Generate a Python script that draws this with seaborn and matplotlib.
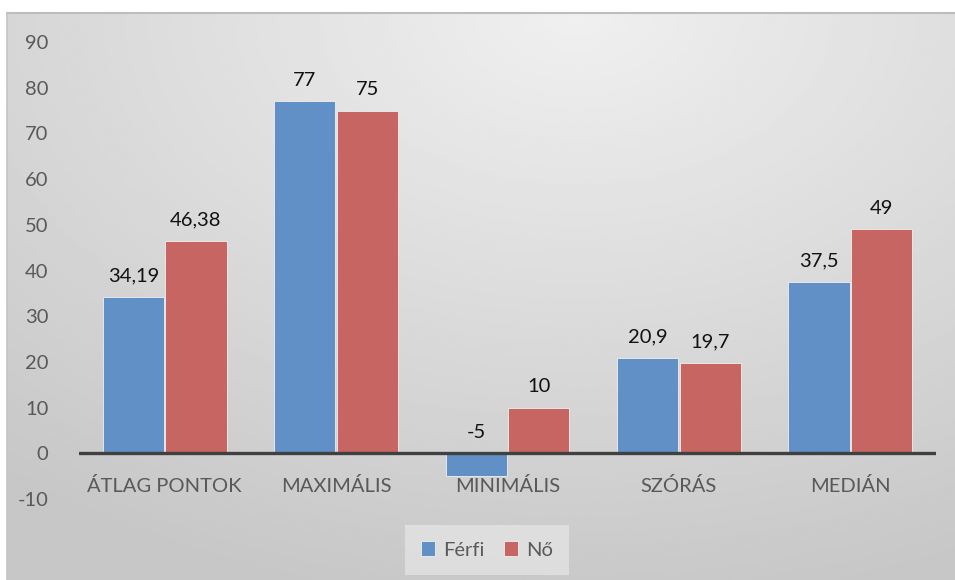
import numpy as np
import pandas as pd
import matplotlib
matplotlib.use('Agg')
import matplotlib.pyplot as plt
import seaborn as sns

# data
categories = ['ÁTLAG PONTOK', 'MAXIMÁLIS', 'MINIMÁLIS', 'SZÓRÁS', 'MEDIÁN']
ferfi = [34.19, 77, -5, 20.9, 37.5]
no = [46.38, 75, 10, 19.7, 49]
series = ['Férfi', 'Nő']
yticks = list(range(-10, 100, 10))

df = pd.DataFrame({
    'cat': categories * 2,
    'val': ferfi + no,
    'nem': [series[0]] * len(categories) + [series[1]] * len(categories),
})

sns.set_theme(style='white')
plt.rcParams['font.family'] = ['Lato', 'DejaVu Sans']
plt.rcParams['axes.unicode_minus'] = False

fig = plt.figure(figsize=(9.55, 5.8), dpi=100)
fig.patch.set_facecolor('white')

# gray gradient background, like the excel chart area
bg = fig.add_axes([7/955, 0, 948/955, 567/580])
xx, yy = np.meshgrid(np.linspace(0, 1, 300), np.linspace(0, 1, 200))
d = np.sqrt(((xx - 0.6) * 1.0) ** 2 + ((yy - 0.0) * 0.9) ** 2)
grad = 0.94 - 0.16 * np.clip(d / 0.95, 0, 1)
bg.imshow(grad, cmap='gray', vmin=0, vmax=1, aspect='auto', extent=[0, 1, 0, 1], origin='upper')
bg.set_xlim(0, 1)
bg.set_ylim(0, 1)
bg.axis('off')
bg.plot([0, 0], [0, 1], color='#c4c4c4', lw=1.2, transform=bg.transAxes, clip_on=False)
bg.plot([0, 1], [1, 1], color='#bdbdbd', lw=1.5, transform=bg.transAxes, clip_on=False)

ax = fig.add_axes([79/955, 81/580, 857/955, 457/580])
ax.patch.set_alpha(0)

palette = {'Férfi': '#6190C6', 'Nő': '#C66562'}
sns.barplot(data=df, x='cat', y='val', hue='nem', palette=palette, ax=ax,
            width=0.73, gap=0.02, edgecolor='#f0f0f0', linewidth=0.6, saturation=1)

ax.set_ylim(-10, 90)
ax.set_yticks(yticks)
ax.set_xlim(-0.5, len(categories) - 0.5)
ax.set_xlabel('')
ax.set_ylabel('')
for s in ax.spines.values():
    s.set_visible(False)
ax.axhline(0, color='#404040', lw=2.4, zorder=5)

ax.tick_params(axis='y', labelsize=14.5, labelcolor='#595959', length=0, pad=22)
ax.tick_params(axis='x', labelsize=14.5, labelcolor='#595959', length=0, pad=0)
ax.set_xticks(range(len(categories)))
ax.set_xticklabels(categories)
for lab in ax.get_xticklabels():
    lab.set_y(0.048)

# data labels
for cont in ax.containers:
    for bar in cont:
        v = bar.get_height()
        top = max(v, 0)
        txt = ('%g' % v).replace('.', ',')
        ax.annotate(txt, (bar.get_x() + bar.get_width() / 2, top), xytext=(0, 9),
                    textcoords='offset points', ha='center', va='bottom',
                    fontsize=14.5, color='#111111', zorder=6)

leg = ax.legend(loc='center', bbox_to_anchor=(487/955, 30/580), bbox_transform=fig.transFigure,
                ncol=2, frameon=True, fontsize=14.5, handlelength=0.7, handleheight=0.7,
                handletextpad=0.4, columnspacing=1.0, borderpad=0.5)
leg.get_frame().set_facecolor('#e3e3e3')
leg.get_frame().set_edgecolor('none')
leg.get_frame().set_alpha(0.8)
leg.get_frame().set_boxstyle('square', pad=0.3)
for t in leg.get_texts():
    t.set_color('#595959')

fig.savefig('out.png', dpi=100)
